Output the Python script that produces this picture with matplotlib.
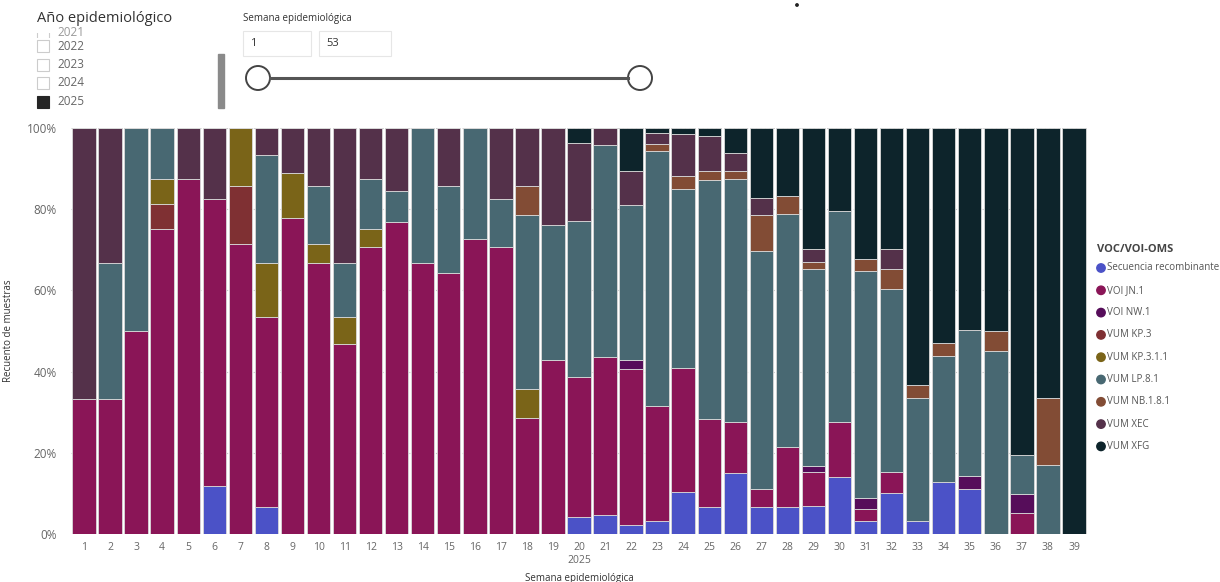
import matplotlib
matplotlib.use("Agg")
import matplotlib.pyplot as plt
from matplotlib.patches import Rectangle, Circle
from matplotlib.lines import Line2D
import numpy as np

plt.rcParams['font.family'] = ['Open Sans', 'DejaVu Sans']

weeks = list(range(1, 40))
series_names = ["Secuencia recombinante", "VOI JN.1", "VOI NW.1", "VUM KP.3", "VUM KP.3.1.1",
                "VUM LP.8.1", "VUM NB.1.8.1", "VUM XEC", "VUM XFG"]
colors = ["#4B52C7", "#8A1557", "#560D5A", "#7F3033", "#7A6418",
          "#486872", "#824C35", "#54314A", "#0D242B"]

recombinante = [0, 0, 0, 0, 0, 11.8, 0, 6.7, 0, 0, 0, 0, 0, 0, 0, 0, 0, 0, 0, 4.1,
                4.6, 2.3, 3.1, 10.4, 6.7, 15.1, 6.7, 6.6, 6.9, 14.0, 3.1, 10.2, 3.3, 12.7, 11.0, 0, 0, 0, 0]
jn1 = [33.3, 33.3, 50, 75, 87.5, 70.6, 71.4, 46.7, 77.8, 66.7, 46.7, 70.8, 76.9, 66.7, 64.3, 72.7, 70.6, 28.6, 42.9, 34.5,
       39.0, 38.3, 28.5, 30.4, 21.6, 12.6, 4.3, 14.9, 8.4, 13.7, 3.1, 5.1, 0, 0, 0, 0, 5.1, 0, 0]
nw1 = [0, 0, 0, 0, 0, 0, 0, 0, 0, 0, 0, 0, 0, 0, 0, 0, 0, 0, 0, 0,
       0, 2.2, 0, 0, 0, 0, 0, 0, 1.5, 0, 2.7, 0, 0, 0, 3.4, 0, 4.7, 0, 0]
kp3 = [0, 0, 0, 6.25, 0, 0, 14.3, 0, 0, 0, 0, 0, 0, 0, 0, 0, 0, 0, 0, 0,
       0, 0, 0, 0, 0, 0, 0, 0, 0, 0, 0, 0, 0, 0, 0, 0, 0, 0, 0]
kp311 = [0, 0, 0, 6.25, 0, 0, 14.3, 13.3, 11.1, 4.8, 6.7, 4.2, 0, 0, 0, 0, 0, 7.1, 0, 0,
         0, 0, 0, 0, 0, 0, 0, 0, 0, 0, 0, 0, 0, 0, 0, 0, 0, 0, 0]
lp81 = [0, 33.3, 50, 12.5, 0, 0, 0, 26.7, 0, 14.3, 13.3, 12.5, 7.7, 33.3, 21.4, 27.3, 11.8, 42.9, 33.3, 38.5,
        52.2, 38.2, 62.8, 44.1, 58.8, 59.7, 58.8, 57.4, 48.5, 51.9, 56.0, 45.0, 30.2, 31.2, 35.8, 45.0, 9.6, 16.9, 0]
nb181 = [0, 0, 0, 0, 0, 0, 0, 0, 0, 0, 0, 0, 0, 0, 0, 0, 0, 7.1, 0, 0,
         0, 0, 1.6, 3.4, 2.2, 2.1, 8.7, 4.3, 1.6, 0, 2.9, 5.0, 3.1, 3.2, 0, 5.0, 0, 16.7, 0]
xec = [66.7, 33.3, 0, 0, 12.5, 17.6, 0, 6.7, 11.1, 14.3, 33.3, 12.5, 15.4, 0, 14.3, 0, 17.6, 14.3, 23.8, 19.2,
       4.2, 8.5, 2.7, 10.2, 8.8, 4.3, 4.3, 0, 3.4, 0, 0, 4.9, 0, 0, 0, 0, 0, 0, 0]
xfg = [0, 0, 0, 0, 0, 0, 0, 0, 0, 0, 0, 0, 0, 0, 0, 0, 0, 0, 0, 3.8,
       0, 10.5, 1.3, 1.5, 1.9, 6.2, 17.2, 16.8, 29.7, 20.4, 32.2, 29.8, 63.4, 52.9, 49.8, 50.0, 80.6, 66.4, 100]

yticks = [0, 20, 40, 60, 80, 100]
ytick_labels = ["0%", "20%", "40%", "60%", "80%", "100%"]
years = ["2021", "2022", "2023", "2024", "2025"]

data = np.array([recombinante, jn1, nw1, kp3, kp311, lp81, nb181, xec, xfg], dtype=float)
data = data / data.sum(axis=0) * 100

W, H = 1220, 582
fig = plt.figure(figsize=(W / 100, H / 100), dpi=100)

# overlay for slicers (pixel coordinates)
ov = fig.add_axes([0, 0, 1, 1])
ov.set_xlim(0, W)
ov.set_ylim(H, 0)
ov.axis("off")

ax = fig.add_axes([71 / W, (H - 534) / H, 1016 / W, 406 / H])
bottom = np.zeros(len(weeks))
for name, vals, c in zip(series_names, data, colors):
    ax.bar(weeks, vals, bottom=bottom, width=0.9, color=c, edgecolor="#d9d9d9",
           linewidth=0.6, label=name, zorder=3)
    bottom += vals

ax.set_xlim(0.5, 39.5)
ax.set_ylim(0, 100)
ax.set_yticks(yticks)
ax.set_yticklabels(ytick_labels, color="#666666", fontsize=8.5)
ax.set_xticks(weeks)
ax.set_xticklabels([str(w) for w in weeks], color="#666666", fontsize=7.5)
ax.tick_params(length=0, pad=6)
ax.tick_params(axis="y", pad=10)
for s in ax.spines.values():
    s.set_visible(False)
ax.grid(axis="y", color="#c8c8c8", linestyle=(0, (1, 3)), linewidth=0.8, zorder=0)
ax.set_ylabel("Recuento de muestras", fontsize=7, color="#333333")
ax.yaxis.set_label_coords(-0.056, 0.5)
ax.text(0.5, -0.065, "2025", transform=ax.transAxes, ha="center", va="center",
        fontsize=7.5, color="#666666")
ax.text(0.5, -0.11, "Semana epidemiológica", transform=ax.transAxes, ha="center", va="center",
        fontsize=7, color="#333333")

# legend
ov.text(1097, 250, "VOC/VOI-OMS", fontsize=8, fontweight="bold", color="#444444", va="center")
for i, (name, c) in enumerate(zip(series_names, colors)):
    y = 268 + i * 22.3
    ov.add_patch(Circle((1101, y), 4.2, color=c))
    ov.text(1107, y, name, fontsize=7, color="#555555", va="center")

# year slicer
ov.text(37, 19, "Año epidemiológico", fontsize=10.5, color="#333333", va="center")
clip = Rectangle((0, 33), 200, 5, transform=ov.transData, visible=False)
ov.add_patch(clip)
box0 = Rectangle((37, 27), 12, 12, facecolor="white", edgecolor="#cccccc", lw=0.8)
ov.add_patch(box0)
box0.set_clip_path(clip)
t = ov.text(57, 33, years[0], fontsize=8.5, color="#999999", va="center")
t.set_clip_path(clip)
for i, yr in enumerate(years[1:]):
    yy = 46 + i * 18.5
    filled = yr == "2025"
    ov.add_patch(Rectangle((37, yy - 6), 12, 12, facecolor="#252525" if filled else "white",
                           edgecolor="#252525" if filled else "#cccccc", lw=0.8))
    ov.text(57, yy, yr, fontsize=8.5, color="#666666", va="center")
ov.add_patch(Rectangle((218, 54), 6, 54, color="#8a8a8a"))

# week slicer
ov.text(243, 18, "Semana epidemiológica", fontsize=7, color="#333333", va="center")
ov.add_patch(Rectangle((243, 31), 68, 25, facecolor="white", edgecolor="#e6e6e6", lw=0.8))
ov.add_patch(Rectangle((319, 31), 72, 25, facecolor="white", edgecolor="#e6e6e6", lw=0.8))
ov.text(250, 44, "1", fontsize=8, color="#333333", va="center")
ov.text(326, 44, "53", fontsize=8, color="#333333", va="center")
ov.add_line(Line2D([270, 628], [78, 78], color="#555555", lw=2.2))
for cx in (258, 640):
    ov.add_patch(Circle((cx, 78), 12, facecolor="white", edgecolor="#444444", lw=1.4))
ov.add_patch(Circle((797, 5), 1.2, color="#222222"))

fig.savefig("out.png", dpi=100)
